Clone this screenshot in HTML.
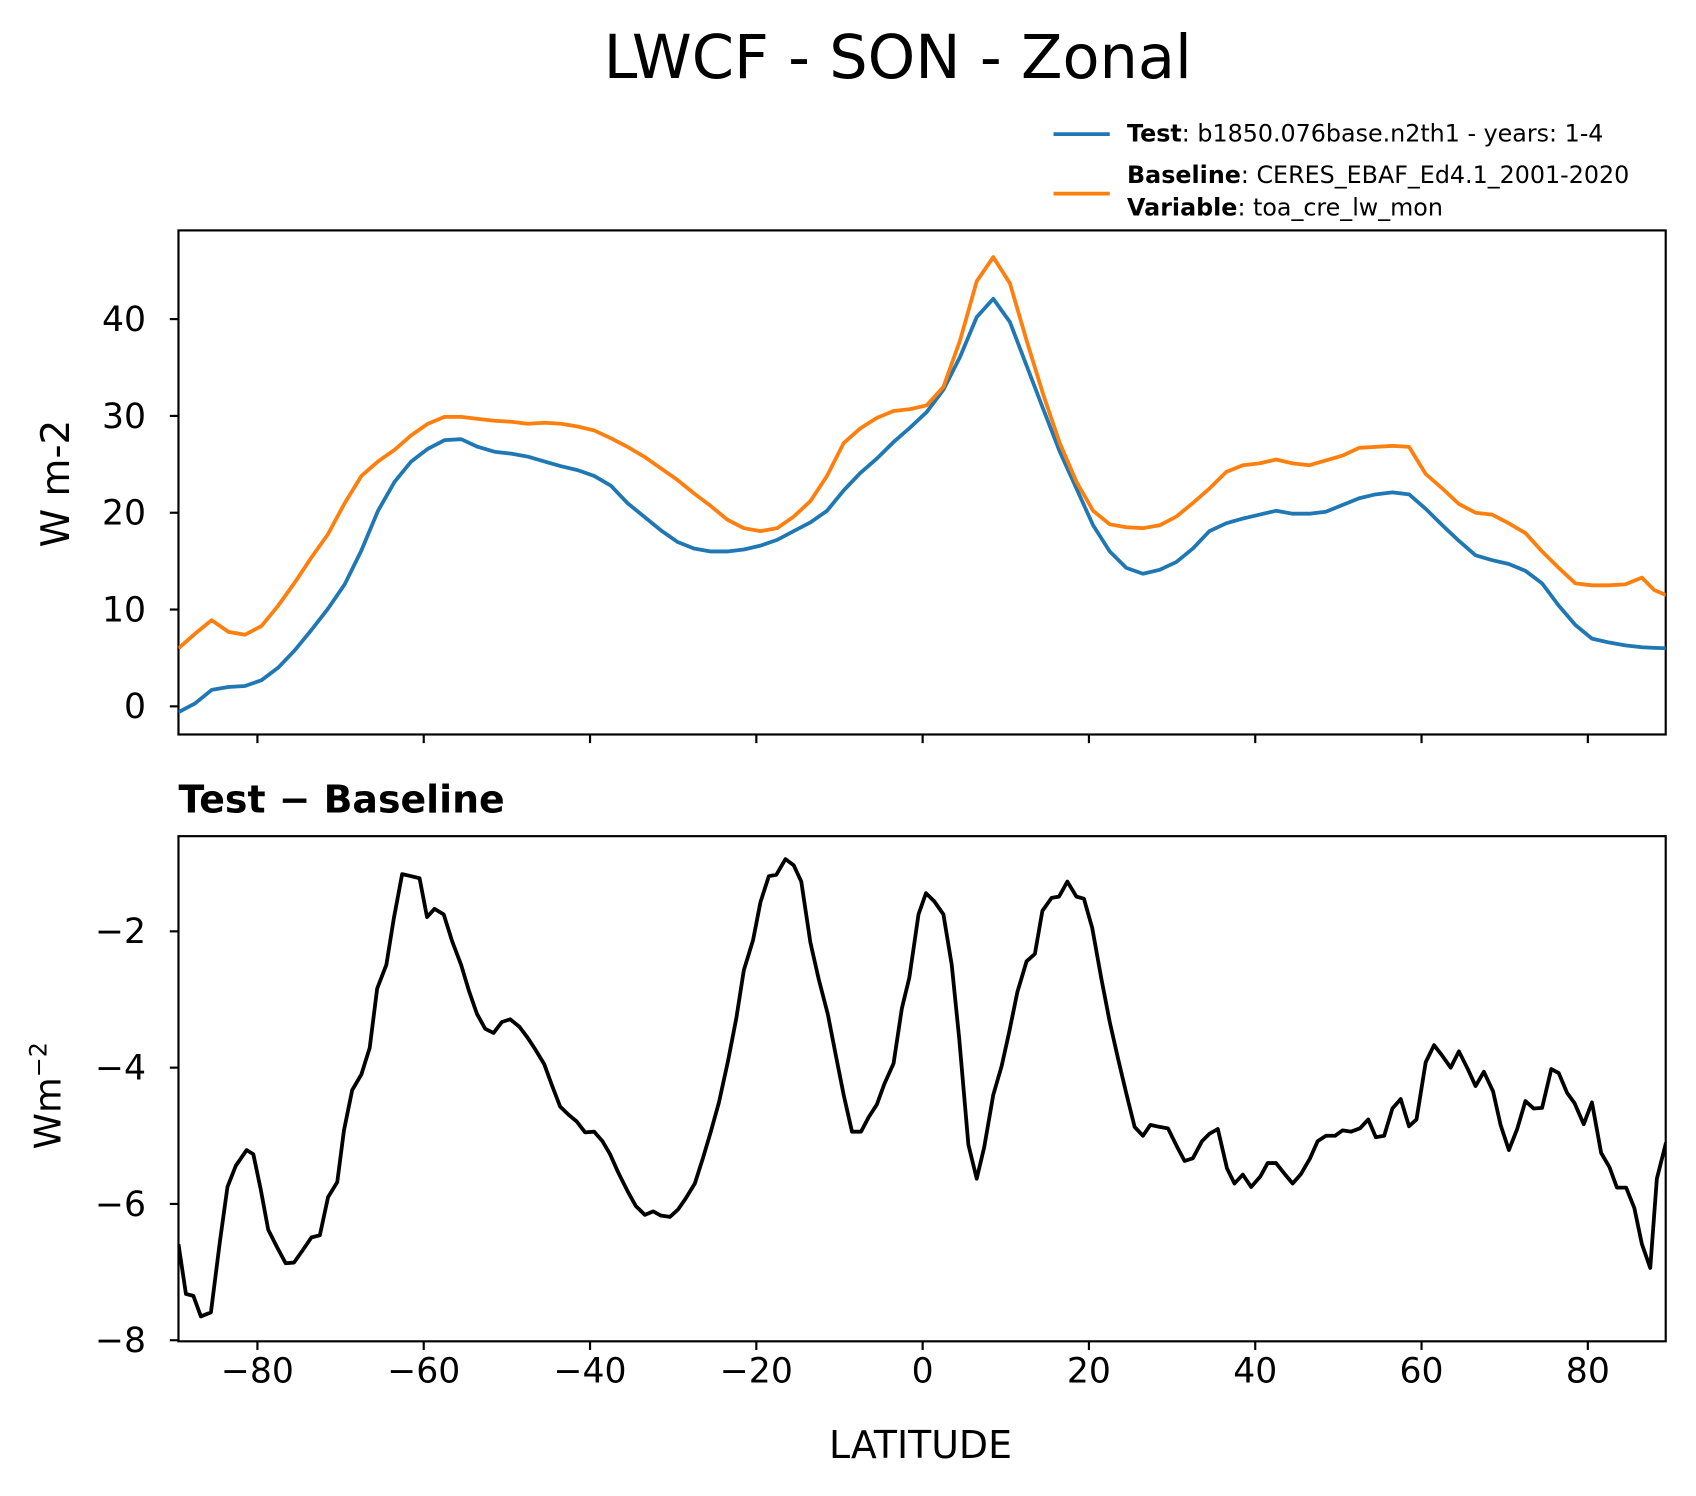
<!DOCTYPE html>
<html><head><meta charset="utf-8"><style>
html,body{margin:0;padding:0;background:#fff}
svg{display:block}
text{font-family:"DejaVu Sans","Liberation Sans",sans-serif;fill:#000}
</style></head><body>
<svg id="chart" width="1696" height="1496" viewBox="0 0 1568 1383" preserveAspectRatio="none" xmlns="http://www.w3.org/2000/svg">
<rect width="1568" height="1383" fill="#fff"/>
<text x="830" y="72" font-size="56" text-anchor="middle">LWCF - SON - Zonal</text>
<g>
<line x1="974" y1="124" x2="1026" y2="124" stroke="#1f77b4" stroke-width="3.5"/>
<text x="1042" y="131" font-size="22"><tspan font-weight="bold">Test</tspan>: b1850.076base.n2th1 - years: 1-4</text>
<line x1="974" y1="179" x2="1026" y2="179" stroke="#ff7f0e" stroke-width="3.5"/>
<text x="1042" y="169" font-size="22"><tspan font-weight="bold">Baseline</tspan>: CERES_EBAF_Ed4.1_2001-2020</text>
<text x="1042" y="199" font-size="22"><tspan font-weight="bold">Variable</tspan>: toa_cre_lw_mon</text>
</g>
<text transform="translate(64,447) rotate(-90)" font-size="36" text-anchor="middle">W m-2</text>
<text x="165" y="751" font-size="35" font-weight="bold">Test − Baseline</text>
<text transform="translate(56,1013) rotate(-90)" font-size="34" text-anchor="middle">Wm<tspan font-size="22" dy="-13">−2</tspan></text>
<text x="851" y="1348" font-size="35" text-anchor="middle">LATITUDE</text>
<g id="top"></g>
<g id="bot"></g>
</svg>
<script>
const topLat=[-89.5,-87.5,-85.5,-83.5,-81.5,-79.5,-77.5,-75.5,-73.5,-71.5,-69.5,-67.5,-65.5,-63.5,-61.5,-59.5,-57.5,-55.5,-53.5,-51.5,-49.5,-47.5,-45.5,-43.5,-41.5,-39.5,-37.5,-35.5,-33.5,-31.5,-29.5,-27.5,-25.5,-23.5,-21.5,-19.5,-17.5,-15.5,-13.5,-11.5,-9.5,-7.5,-5.5,-3.5,-1.5,0.5,2.5,4.5,6.5,8.5,10.5,12.5,14.5,16.5,18.5,20.5,22.5,24.5,26.5,28.5,30.5,32.5,34.5,36.5,38.5,40.5,42.5,44.5,46.5,48.5,50.5,52.5,54.5,56.5,58.5,60.5,62.5,64.5,66.5,68.5,70.5,72.5,74.5,76.5,78.5,80.5,82.5,84.5,86.5,88.0,89.4];
const testVals=[-0.6,0.3,1.7,2.0,2.1,2.7,4.0,5.8,7.9,10.1,12.6,16.1,20.2,23.2,25.3,26.6,27.5,27.6,26.8,26.3,26.1,25.8,25.3,24.8,24.4,23.8,22.8,21.0,19.6,18.2,17.0,16.3,16.0,16.0,16.2,16.6,17.2,18.1,19.0,20.2,22.3,24.1,25.6,27.3,28.8,30.4,32.7,36.1,40.2,42.1,39.7,35.2,30.7,26.3,22.5,18.7,16.0,14.3,13.7,14.1,14.9,16.3,18.1,18.9,19.4,19.8,20.2,19.9,19.9,20.1,20.8,21.5,21.9,22.1,21.9,20.4,18.7,17.1,15.6,15.1,14.7,14.0,12.7,10.4,8.4,7.0,6.6,6.3,6.1,6.05,6.0];
const baseVals=[6.0,7.5,8.9,7.7,7.4,8.3,10.4,12.8,15.4,17.8,21.0,23.8,25.3,26.5,28.0,29.2,29.9,29.9,29.7,29.5,29.4,29.2,29.3,29.2,28.9,28.5,27.7,26.8,25.8,24.6,23.4,22.0,20.7,19.3,18.4,18.1,18.4,19.6,21.2,23.8,27.2,28.7,29.8,30.5,30.7,31.1,33.0,37.8,43.9,46.4,43.7,37.8,32.2,27.2,23.2,20.2,18.8,18.5,18.4,18.7,19.6,21.0,22.5,24.2,24.9,25.1,25.5,25.1,24.9,25.4,25.9,26.7,26.8,26.9,26.8,24.0,22.5,20.9,20.0,19.8,18.9,17.9,16.0,14.3,12.7,12.5,12.5,12.6,13.3,12.0,11.5];
const diffLat=[-89.5,-88.6,-87.7,-86.8,-85.6,-84.5,-83.6,-82.6,-81.3,-80.5,-79.6,-78.7,-77.7,-76.6,-75.6,-74.5,-73.5,-72.5,-71.5,-70.4,-69.6,-68.6,-67.5,-66.5,-65.6,-64.5,-63.6,-62.6,-61.5,-60.5,-59.6,-58.7,-57.6,-56.6,-55.5,-54.6,-53.6,-52.6,-51.6,-50.6,-49.6,-48.5,-47.5,-46.6,-45.5,-44.6,-43.6,-42.5,-41.6,-40.6,-39.5,-38.5,-37.6,-36.6,-35.5,-34.5,-33.4,-32.4,-31.5,-30.4,-29.4,-28.5,-27.4,-26.4,-25.5,-24.5,-23.4,-22.4,-21.5,-20.4,-19.5,-18.5,-17.6,-16.5,-15.5,-14.6,-13.5,-12.5,-11.4,-10.4,-9.5,-8.5,-7.4,-6.5,-5.5,-4.6,-3.5,-2.5,-1.6,-0.5,0.4,1.4,2.5,3.5,4.4,5.5,6.5,7.4,8.5,9.5,10.4,11.4,12.5,13.5,14.4,15.5,16.4,17.4,18.5,19.4,20.4,21.5,22.5,23.5,24.5,25.5,26.5,27.4,28.5,29.5,30.6,31.5,32.5,33.6,34.5,35.5,36.6,37.5,38.5,39.5,40.6,41.5,42.5,43.6,44.5,45.5,46.6,47.5,48.5,49.6,50.5,51.5,52.6,53.6,54.5,55.5,56.5,57.5,58.5,59.4,60.5,61.5,62.4,63.5,64.5,65.6,66.5,67.5,68.6,69.5,70.5,71.5,72.5,73.5,74.5,75.6,76.5,77.5,78.4,79.5,80.5,81.6,82.6,83.5,84.6,85.6,86.5,87.5,88.3,89.4];
const diffVals=[-6.59,-7.32,-7.35,-7.65,-7.59,-6.54,-5.75,-5.44,-5.21,-5.27,-5.79,-6.38,-6.62,-6.87,-6.86,-6.67,-6.49,-6.46,-5.90,-5.68,-4.92,-4.33,-4.10,-3.71,-2.84,-2.49,-1.81,-1.16,-1.19,-1.22,-1.79,-1.67,-1.75,-2.14,-2.49,-2.86,-3.21,-3.43,-3.49,-3.33,-3.29,-3.40,-3.56,-3.73,-3.95,-4.25,-4.57,-4.70,-4.79,-4.95,-4.94,-5.08,-5.27,-5.54,-5.81,-6.03,-6.16,-6.11,-6.17,-6.19,-6.08,-5.92,-5.70,-5.32,-4.95,-4.51,-3.90,-3.27,-2.57,-2.13,-1.57,-1.19,-1.17,-0.94,-1.03,-1.27,-2.16,-2.70,-3.22,-3.84,-4.40,-4.94,-4.94,-4.73,-4.54,-4.24,-3.94,-3.13,-2.68,-1.75,-1.44,-1.56,-1.75,-2.49,-3.57,-5.13,-5.63,-5.17,-4.40,-3.98,-3.48,-2.89,-2.44,-2.33,-1.70,-1.51,-1.49,-1.27,-1.49,-1.52,-1.95,-2.70,-3.33,-3.87,-4.38,-4.87,-5.00,-4.84,-4.87,-4.89,-5.16,-5.37,-5.33,-5.08,-4.97,-4.90,-5.48,-5.70,-5.57,-5.75,-5.60,-5.40,-5.40,-5.57,-5.70,-5.56,-5.33,-5.08,-5.00,-5.00,-4.92,-4.94,-4.89,-4.76,-5.02,-5.00,-4.60,-4.46,-4.86,-4.76,-3.92,-3.67,-3.81,-4.00,-3.76,-4.03,-4.27,-4.06,-4.35,-4.84,-5.21,-4.90,-4.49,-4.60,-4.59,-4.02,-4.08,-4.37,-4.52,-4.83,-4.51,-5.25,-5.46,-5.76,-5.76,-6.06,-6.59,-6.94,-5.63,-5.10];
const xTicks=[-80,-60,-40,-20,0,20,40,60,80];
const xTickLabels=["−80","−60","−40","−20","0","20","40","60","80"];
const topYTicks=[0,10,20,30,40];
const topYTickLabels=["0","10","20","30","40"];
const botYTicks=[-2,-4,-6,-8];
const botYTickLabels=["−2","−4","−6","−8"];

const NS="http://www.w3.org/2000/svg";
const L=165,R=1540;
const xs=v=>853+v*7.6875;
const yTop=v=>653-v*8.95;
const yBot=v=>861-(v+2)*63;
function mk(parent,tag,attrs){const e=document.createElementNS(NS,tag);for(const k in attrs)e.setAttribute(k,attrs[k]);parent.appendChild(e);return e;}
function panel(g,top,bot,yf,yt,ylab,showX,clip){
  const cp=mk(g,'clipPath',{id:clip});
  mk(cp,'rect',{x:L,y:top,width:R-L,height:bot-top});
  const frame=mk(g,'rect',{x:L,y:top,width:R-L,height:bot-top,fill:'none',stroke:'#000','stroke-width':2});
  
  
  xTicks.forEach((t,i)=>{
    const tk=mk(g,'line',{x1:xs(t),x2:xs(t),y1:bot,y2:bot+8,stroke:'#000','stroke-width':2});
    
    
    if(showX){const tx=mk(g,'text',{x:xs(t),y:bot+38,'font-size':32,'text-anchor':'middle'});tx.textContent=xTickLabels[i];
      
      }
  });
  yt.forEach((t,i)=>{
    const tk=mk(g,'line',{x1:L-8,x2:L,y1:yf(t),y2:yf(t),stroke:'#000','stroke-width':2});
    
    
    const tx=mk(g,'text',{x:L-30,y:yf(t)+11,'font-size':32,'text-anchor':'end'});tx.textContent=ylab[i];
    
    
  });
}
function line(g,lat,vals,yf,color,name,clip){
  const d=lat.map((x,i)=>(i?'L':'M')+xs(x).toFixed(1)+','+yf(vals[i]).toFixed(1)).join('');
  const p=mk(g,'path',{d:d,fill:'none',stroke:color,'stroke-width':3.5,'stroke-linejoin':'round','clip-path':'url(#'+clip+')'});
  
  
}
const gt=document.getElementById('top');


panel(gt,213,679,yTop,topYTicks,topYTickLabels,false,'ct');
line(gt,topLat,testVals,yTop,'#1f77b4','test-line','ct');
line(gt,topLat,baseVals,yTop,'#ff7f0e','baseline-line','ct');
const gb=document.getElementById('bot');


panel(gb,773,1240,yBot,botYTicks,botYTickLabels,true,'cb');
line(gb,diffLat,diffVals,yBot,'#000','difference-line','cb');
</script>
</body></html>
